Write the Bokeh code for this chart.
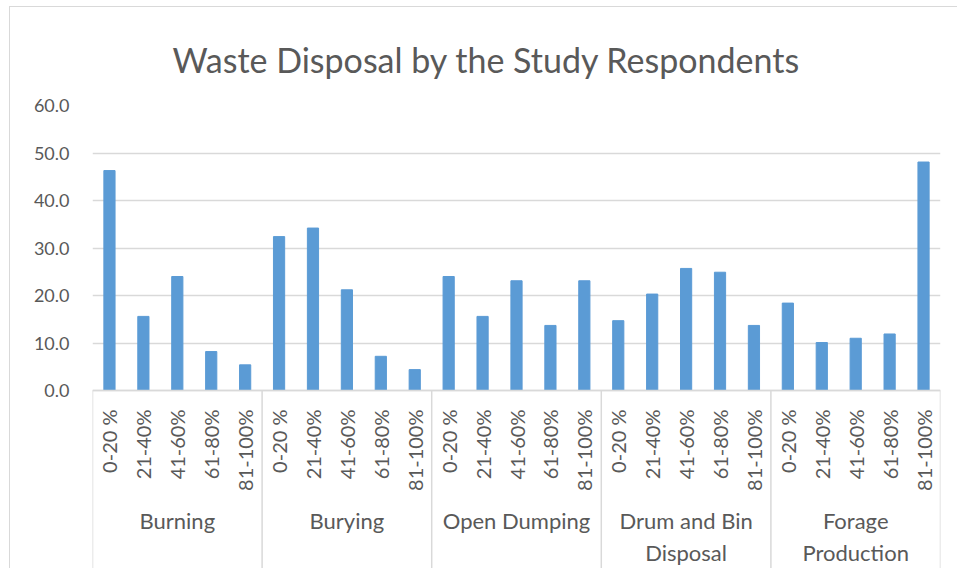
import math
from bokeh.plotting import figure
from bokeh.models import (FactorRange, Range1d, FixedTicker,
                          NumeralTickFormatter, Title)
from bokeh.embed import file_html
from bokeh.resources import INLINE

# ---- data ----
title_text = "Waste Disposal by the Study Respondents"
groups = ["Burning", "Burying", "Open Dumping", "Drum and Bin\nDisposal", "Forage\nProduction"]
ranges = ["0-20 %", "21-40%", "41-60%", "61-80%", "81-100%"]
burning = [46.3, 15.6, 24.0, 8.2, 5.4]
burying = [32.4, 34.2, 21.2, 7.2, 4.4]
open_dumping = [24.0, 15.6, 23.1, 13.7, 23.1]
drum_bin = [14.7, 20.3, 25.7, 24.9, 13.7]
forage = [18.4, 10.1, 11.0, 11.9, 48.1]
y_ticks = [0, 10, 20, 30, 40, 50, 60]

series = [burning, burying, open_dumping, drum_bin, forage]
factors = [(g, r) for g in groups for r in ranges]
values = [v for s in series for v in s]

GRID = "#d9d9d9"
TXT = "#595959"
FONT = "Lato"

# layout: value axis occupies 285px for 60 units; the category label band
# below it lives inside the frame (axis drawn at y=0)
VALUE_PX = 285
PX_PER_UNIT = VALUE_PX / (y_ticks[-1] - y_ticks[0])
LABEL_BAND_PX = 178
FRAME_H = VALUE_PX + LABEL_BAND_PX
y_bottom = y_ticks[0] - LABEL_BAND_PX / PX_PER_UNIT

x_range = FactorRange(*factors, factor_padding=0, group_padding=0, subgroup_padding=0, range_padding=0)
p = figure(x_range=x_range, y_range=Range1d(y_bottom, y_ticks[-1]),
           frame_width=848, frame_height=FRAME_H,
           output_backend="svg", toolbar_location=None,
           min_border_left=82, min_border_right=17, min_border_top=98, min_border_bottom=0,
           margin=(6, 0, 0, 9))
p.styles = {"border-left": "1px solid #d9d9d9", "border-top": "1px solid #d9d9d9"}

p.title = Title(text=title_text, align="left", offset=80,
                text_font_size="34px", text_font=FONT, text_font_style="normal",
                text_color=TXT, standoff=52)

p.vbar(x=factors, top=values, width=0.33, fill_color="#5B9BD5", line_color="#5B9BD5")

# group separators, from the category axis down through the label band
n_sub = len(ranges)
edges = [i * n_sub for i in range(len(groups) + 1)]
p.segment(x0=edges, x1=edges, y0=[y_ticks[0]] * len(edges), y1=[y_bottom] * len(edges),
          line_color=GRID, line_width=1.5)

p.outline_line_color = None
p.xgrid.grid_line_color = None
p.ygrid.grid_line_color = GRID
p.ygrid.grid_line_width = 1.3
p.ygrid.ticker = FixedTicker(ticks=y_ticks)

# y axis
ya = p.yaxis[0]
ya.ticker = FixedTicker(ticks=y_ticks)
ya.formatter = NumeralTickFormatter(format="0.0")
ya.axis_line_color = None
ya.major_tick_line_color = None
ya.minor_tick_line_color = None
ya.major_label_text_font = FONT
ya.major_label_text_font_size = "18px"
ya.major_label_text_color = TXT
ya.major_label_standoff = 17

# categorical x axis, drawn at value 0
xa = p.xaxis[0]
xa.fixed_location = y_ticks[0]
xa.axis_line_color = GRID
xa.axis_line_width = 1.3
xa.major_tick_line_color = None
xa.major_label_orientation = math.pi / 2
xa.major_label_text_font = FONT
xa.major_label_text_font_size = "20px"
xa.major_label_text_color = TXT
xa.major_label_standoff = 13
xa.group_text_font = FONT
xa.group_text_font_size = "22px"
xa.group_text_color = TXT
xa.group_text_font_style = "normal"
xa.separator_line_color = None

open("out.html", "w").write(file_html(p, INLINE))
